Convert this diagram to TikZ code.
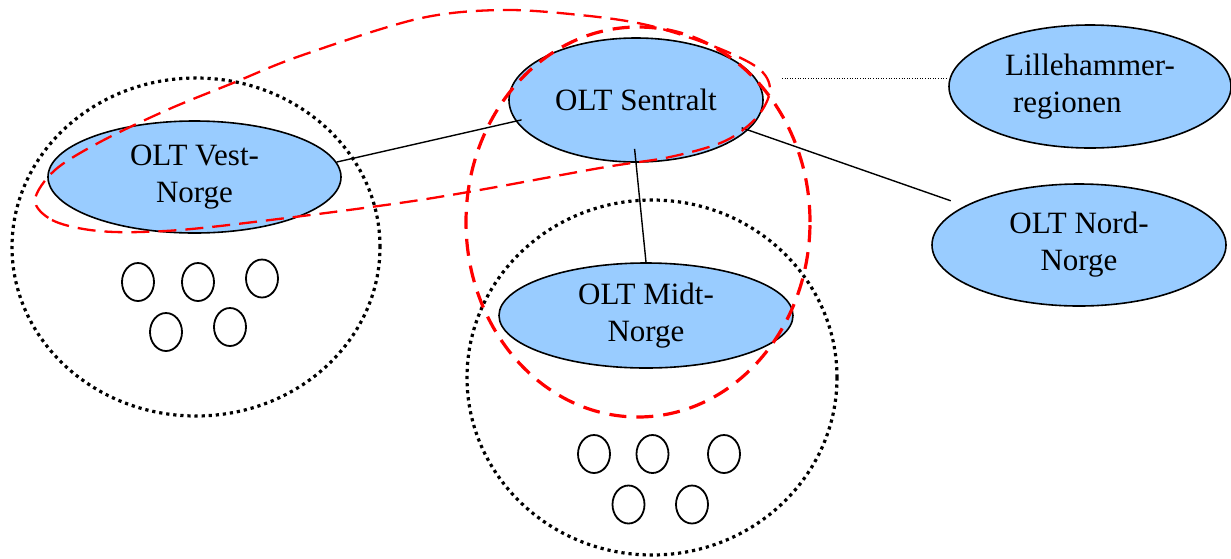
\documentclass[tikz,border=0pt]{standalone}
\usepackage{fontspec}
\setmainfont{Liberation Serif}
\usetikzlibrary{shapes.geometric}
\definecolor{nodeblue}{HTML}{99CCFF}
\definecolor{loopred}{HTML}{FF0000}
\tikzset{
  olt/.style={ellipse, draw=black, line width=1.6pt, fill=nodeblue, inner sep=0pt,
    align=center, font=\fontsize{31}{37}\selectfont},
  link/.style={draw=black, line width=1.4pt},
  thinlink/.style={draw=black, line width=0.9pt, dash pattern=on 1pt off 1.6pt},
  groupring/.style={draw=black, line width=3.2pt, dash pattern=on 3.2pt off 3.9pt},
  onu/.style={draw=black, line width=1.8pt},
  redloop/.style={draw=loopred, line width=2.3pt, dash pattern=on 18pt off 9pt},
  redring/.style={draw=loopred, line width=3.2pt, dash pattern=on 17pt off 10pt}
}
\begin{document}
\begin{tikzpicture}[x=1pt,y=-1pt]
\useasboundingbox (0,0) rectangle (1231,558);

% group rings
\draw[groupring] (196,247) ellipse [x radius=184pt, y radius=169pt];
\draw[groupring] (652,377.5) ellipse [x radius=185pt, y radius=177.5pt];

% small ONU circles, west group
\foreach \p in {(138,282),(198,282),(262,278.5),(166,332),(230,327)}
  \draw[onu] \p ellipse [x radius=16pt, y radius=19pt];
% small ONU circles, mid group
\foreach \p in {(594,454),(652.5,454),(724,454),(628.5,504.5),(692,504.5)}
  \draw[onu] \p ellipse [x radius=16pt, y radius=19pt];

% main nodes
\node[olt, minimum width=254pt, minimum height=124pt] (sentralt) at (636,100) {OLT Sentralt};
\node[olt, minimum width=293pt, minimum height=112pt] (vest) at (194.5,177) {OLT Vest-\\Norge};
\node[olt, minimum width=294pt, minimum height=105pt] (midt) at (646,315.5) {OLT Midt-\\Norge};
\node[olt, minimum width=294pt, minimum height=122pt] (nord) at (1079,245) {OLT Nord-\\Norge};
\node[olt, minimum width=282pt, minimum height=123pt, align=left] (lille) at (1090,86.5)
  {Lillehammer-\\\hspace*{8pt}regionen};

% connectors
\draw[link, shorten >=-6pt] (vest.6) -- (sentralt.190);
\draw[link, shorten <=-7pt, shorten >=15pt] (sentralt.-15.7) -- (nord.161);
\draw[link, shorten <=-14pt] (sentralt.south) -- (midt.north);
\coordinate (dotstart) at (782,78);
\draw[thinlink] (dotstart) -- (lille.west |- dotstart);

% red dashed groupings
\draw[redring] (638,222) ellipse [x radius=172pt, y radius=195pt];
\draw[redloop] plot[smooth cycle, tension=0.55] coordinates {
  (35,200) (52,220) (90,230) (140,232) (220,226) (420,200) (600,168) (670,157)
  (725,141) (757,117) (770,90) (758,68) (713,46) (647,25) (580,15) (500,10)
  (417,19) (300,56) (233,83) (167,110) (100,142) (55,170)};
\end{tikzpicture}
\end{document}
